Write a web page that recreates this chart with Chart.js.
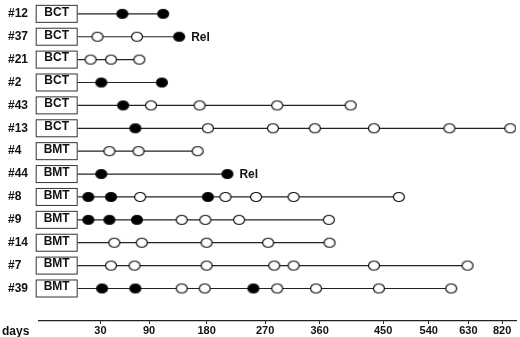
<!DOCTYPE html>
<html>
<head>
<meta charset="utf-8">
<script src="https://cdn.jsdelivr.net/npm/chart.js@4/dist/chart.umd.min.js"></script>
<style>
  body { margin: 0; background: #fff; }
  #wrap { width: 520px; height: 337px; position: relative; }
</style>
</head>
<body>
<div id="wrap"><canvas id="chart"></canvas></div>
<script>
// patients, top to bottom
const patients = ['#12', '#37', '#21', '#2', '#43', '#13', '#4', '#44', '#8', '#9', '#14', '#7', '#39'];
const groups = ['BCT', 'BCT', 'BCT', 'BCT', 'BCT', 'BCT', 'BMT', 'BMT', 'BMT', 'BMT', 'BMT', 'BMT', 'BMT'];

// days of each sample, and whether the marker is filled (1) or open (0)
const visitDays = [
    [57, 112],
    [26, 75, 137],
    [17, 43, 78],
    [31, 110],
    [58, 93, 169, 290, 404],
    [73, 182, 283, 352, 437, 587, 865],
    [41, 77, 166],
    [31, 212],
    [14, 43, 79, 182, 209, 256, 317, 481],
    [14, 41, 75, 141, 178, 230, 373],
    [47, 81, 180, 275, 374],
    [43, 72, 180, 285, 317, 437, 628],
    [32, 73, 141, 177, 252, 290, 354, 444, 591]
];
const visitFilled = [
    [1, 1],
    [0, 0, 1],
    [0, 0, 0],
    [1, 1],
    [1, 0, 0, 0, 0],
    [1, 0, 0, 0, 0, 0, 0],
    [0, 0, 0],
    [1, 1],
    [1, 1, 0, 1, 0, 0, 0, 0],
    [1, 1, 1, 0, 0, 0, 0],
    [0, 0, 0, 0, 0],
    [0, 0, 0, 0, 0, 0, 0],
    [1, 1, 0, 0, 1, 0, 0, 0, 0]
];
const relapsed = ['#37', '#44'];

const tickDays = [30, 90, 180, 270, 360, 450, 540, 630, 820];

// the printed axis is not linear: where each day mark sits along the axis (0..1)
const axisDays = [0, 30, 90, 180, 270, 360, 450, 540, 630, 820, 880];
const axisFrac = [0.0811, 0.1289, 0.2308, 0.3514, 0.4740, 0.5884, 0.7214, 0.8170, 0.9002, 0.9709, 0.9938];

class PiecewiseScale extends Chart.LinearScale {
    buildTicks() {
        return tickDays.map(v => ({ value: v }));
    }
    getPixelForValue(value) {
        if (value === null || isNaN(value)) return NaN;
        let i = 1;
        while (i < axisDays.length - 1 && value > axisDays[i]) i++;
        const d0 = axisDays[i - 1], d1 = axisDays[i];
        const f = axisFrac[i - 1] + (value - d0) / (d1 - d0) * (axisFrac[i] - axisFrac[i - 1]);
        return this.getPixelForDecimal(f);
    }
    getValueForPixel(pixel) {
        const f = this.getDecimalForPixel(pixel);
        let i = 1;
        while (i < axisFrac.length - 1 && f > axisFrac[i]) i++;
        return axisDays[i - 1] + (f - axisFrac[i - 1]) / (axisFrac[i] - axisFrac[i - 1]) * (axisDays[i] - axisDays[i - 1]);
    }
}
PiecewiseScale.id = 'piecewise';
PiecewiseScale.defaults = Chart.LinearScale.defaults;
Chart.register(PiecewiseScale);

function marker(fill) {
    const c = document.createElement('canvas');
    c.width = 14;
    c.height = 12;
    const g = c.getContext('2d');
    g.beginPath();
    g.ellipse(7, 6, 5.5, 4.5, 0, 0, Math.PI * 2);
    g.fillStyle = fill;
    g.fill();
    g.lineWidth = 1.2;
    g.strokeStyle = '#111';
    g.stroke();
    return c;
}
const openMark = marker('#fff');
const fullMark = marker('#000');

const FONT = '"Liberation Sans", Arial, sans-serif';

const datasets = patients.map((p, i) => {
    const days = [0].concat(visitDays[i]);
    const filled = [0].concat(visitFilled[i]);
    return {
        label: p,
        data: days.map(d => ({ x: d, y: i })),
        showLine: true,
        borderColor: '#222',
        borderWidth: 1.2,
        // markers are images, radius only switches them on/off
        // (kept tiny so chart.js does not pad the plot area for them)
        pointRadius: ctx => ctx.dataIndex === 0 ? 0 : 0.2,
        pointBorderWidth: 0,
        pointStyle: ctx => filled[ctx.dataIndex] ? fullMark : openMark
    };
});

const rowLabels = {
    id: 'rowLabels',
    afterDatasetsDraw(chart) {
        const { ctx } = chart;
        const x = chart.scales.x, y = chart.scales.y;
        const boxRight = x.getPixelForValue(0);
        ctx.save();
        ctx.font = 'bold 12px ' + FONT;
        ctx.textBaseline = 'middle';
        patients.forEach((p, i) => {
            const py = y.getPixelForValue(i);
            ctx.fillStyle = '#111';
            ctx.textAlign = 'left';
            ctx.fillText(p, 8, py);

            ctx.fillStyle = '#fff';
            ctx.strokeStyle = '#333';
            ctx.lineWidth = 1;
            ctx.fillRect(boxRight - 41.5, py - 8.5, 41, 17);
            ctx.strokeRect(boxRight - 41.5, py - 8.5, 41, 17);
            ctx.fillStyle = '#111';
            ctx.textAlign = 'center';
            ctx.fillText(groups[i], boxRight - 21, py - 1.5);

            if (relapsed.includes(p)) {
                const last = visitDays[i][visitDays[i].length - 1];
                ctx.textAlign = 'left';
                ctx.fillText('Rel', x.getPixelForValue(last) + 12, py + 1);
            }
        });
        ctx.textAlign = 'left';
        ctx.fillText('days', 2, 332);
        ctx.restore();
    }
};

new Chart(document.getElementById('chart'), {
    type: 'scatter',
    data: { datasets: datasets },
    plugins: [rowLabels],
    options: {
        responsive: true,
        maintainAspectRatio: false,
        animation: false,
        events: [],
        layout: { padding: { left: 39, right: 0, top: 0, bottom: 0 } },
        plugins: {
            legend: { display: false },
            tooltip: { enabled: false }
        },
        scales: {
            x: {
                type: 'piecewise',
                min: 0,
                max: 880,
                grid: { drawOnChartArea: false, drawTicks: true, tickLength: 3, color: '#222' },
                border: { display: true, color: '#222', width: 1.2 },
                ticks: {
                    autoSkip: false,
                    maxRotation: 0,
                    padding: 1,
                    color: '#111',
                    font: { family: FONT, size: 11, weight: 'bold', lineHeight: 1 },
                    callback: v => String(v)
                }
            },
            y: {
                type: 'linear',
                display: false,
                reverse: true,
                min: -0.43,
                max: 13.42
            }
        }
    }
});
</script>
</body>
</html>
